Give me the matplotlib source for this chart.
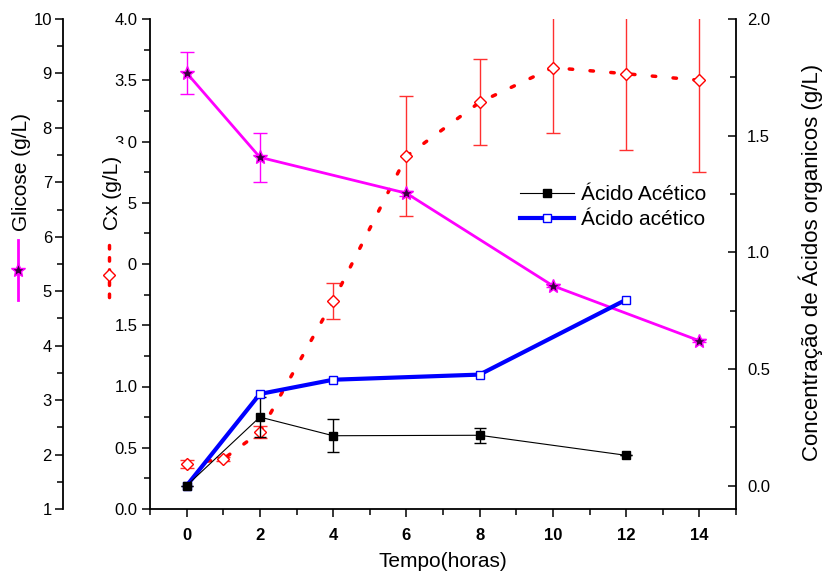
import numpy as np
import matplotlib
matplotlib.use("Agg")
import matplotlib.pyplot as plt
from matplotlib.lines import Line2D
from matplotlib.patches import Rectangle
from matplotlib.ticker import MultipleLocator, FormatStrFormatter

plt.rcParams['font.family'] = ['Liberation Sans', 'DejaVu Sans']

# Glicose (g/L) - far left axis
t_gli = [0, 2, 6, 10, 14]
glicose = [9.01, 7.46, 6.80, 5.10, 4.09]
glicose_err = [0.39, 0.45, 0.05, 0.03, 0.03]

# Cx (g/L) - inner left axis
t_cx = [0, 1, 2, 4, 6, 8, 10, 12, 14]
cx = [0.367, 0.408, 0.626, 1.698, 2.88, 3.32, 3.603, 3.553, 3.50]
cx_err = [0.03, 0.02, 0.05, 0.146, 0.49, 0.35, 0.53, 0.62, 0.75]

# acidos organicos (g/L) - right axis
t_ac = [0, 2, 4, 8, 12]
acetico_1 = [0.0, 0.294, 0.214, 0.216, 0.13]
acetico_1_err = [0.0, 0.085, 0.07, 0.032, 0.0]
acetico_2 = [0.0, 0.393, 0.454, 0.476, 0.797]

W, H = 823, 581
fig = plt.figure(figsize=(W / 100, H / 100), dpi=100)
ax = fig.add_axes([150 / W, 1 - 509 / H, 586 / W, 490 / H])
ax_g = ax.twinx()
ax_r = ax.twinx()

# Cx
ax.errorbar(t_cx, cx, yerr=cx_err, color="red", lw=2.5, ls=(0, (1, 5)),
            dash_capstyle="round", marker="D", ms=6, mfc="white", mec="red", mew=1,
            ecolor="#ff3030", elinewidth=1, capsize=5, capthick=1)
ax.set_xlim(-1, 15)
ax.set_ylim(0, 4.0)
ax.yaxis.set_major_locator(MultipleLocator(0.5))
ax.yaxis.set_minor_locator(MultipleLocator(0.25))
ax.yaxis.set_major_formatter(FormatStrFormatter("%.1f"))
ax.xaxis.set_major_locator(MultipleLocator(2))
ax.xaxis.set_minor_locator(MultipleLocator(1))
ax.set_xlabel("Tempo(horas)", fontsize=15, labelpad=6)
for lab in ax.get_xticklabels():
    lab.set_fontweight("bold")
ax.tick_params(axis="x", which="both", direction="out", labelsize=12, pad=8)
ax.tick_params(axis="y", which="both", direction="out", labelsize=12, pad=3)
ax.tick_params(which="major", length=6, width=1.1)
ax.tick_params(which="minor", length=4, width=1.1)
ax.spines.top.set_visible(False)
ax.spines.right.set_visible(False)
ax.spines.left.set_linewidth(1.3)
ax.spines.bottom.set_linewidth(1.3)

# Glicose
ax_g.errorbar(t_gli, glicose, yerr=glicose_err, color="magenta", lw=2,
              marker="*", ms=10, mfc="#3a0040", mec="magenta", mew=1,
              elinewidth=1, capsize=5, capthick=1)
ax_g.set_ylim(1, 10)
ax_g.yaxis.set_major_locator(MultipleLocator(1))
ax_g.yaxis.set_minor_locator(MultipleLocator(0.5))
for s in ["top", "right", "bottom"]:
    ax_g.spines[s].set_visible(False)
ax_g.spines.left.set_visible(True)
ax_g.spines.left.set_position(("axes", -87 / 586))
ax_g.spines.left.set_linewidth(1.3)
ax_g.yaxis.set_ticks_position("left")
ax_g.yaxis.set_label_position("left")
ax_g.tick_params(which="both", direction="out", labelsize=12, pad=2)
ax_g.tick_params(which="major", length=6, width=1.1)
ax_g.tick_params(which="minor", length=4, width=1.1)

# acidos
ax_r.errorbar(t_ac, acetico_1, yerr=acetico_1_err, color="black", lw=0.8,
              marker="s", ms=6, elinewidth=1, capsize=4, capthick=1, label="Ácido Acético")
ax_r.plot(t_ac, acetico_2, color="blue", lw=3, marker="s", ms=6, mfc="white",
          mec="blue", mew=1, label="Ácido acético")
ax_r.set_ylim(-0.1, 2.0)
ax_r.yaxis.set_major_locator(MultipleLocator(0.5))
ax_r.yaxis.set_minor_locator(MultipleLocator(0.25))
ax_r.yaxis.set_major_formatter(FormatStrFormatter("%.1f"))
for s in ["top", "left", "bottom"]:
    ax_r.spines[s].set_visible(False)
ax_r.spines.right.set_linewidth(1.3)
ax_r.tick_params(which="both", direction="in", labelsize=12, pad=8)
ax_r.tick_params(which="major", length=6, width=1.1)
ax_r.tick_params(which="minor", length=4, width=1.1)

h1 = Line2D([], [], color="black", lw=0.8, marker="s", ms=6)
h2 = Line2D([], [], color="blue", lw=3, marker="s", ms=6, mfc="white", mec="blue", mew=1)
ax_r.legend([h1, h2], ["Ácido Acético", "Ácido acético"], loc="upper left",
            bbox_to_anchor=(520 / W, 1 - 185 / H), bbox_transform=fig.transFigure,
            frameon=False, fontsize=15, numpoints=1, handlelength=2.6,
            handletextpad=0.35, labelspacing=0.3, borderpad=0, borderaxespad=0)

fig.text(811 / W, 1 - 262 / H, "Concentração de Ácidos organicos (g/L)", rotation=90,
         ha="center", va="center", fontsize=16)

# axis titles with their series symbols (Origin style)
fig.add_artist(Rectangle((100 / W, 1 - 290 / H), 27 / W, 146 / H, transform=fig.transFigure,
                         facecolor="white", edgecolor="none", zorder=5))
fig.text(22 / W, 1 - 172 / H, "Glicose (g/L)", rotation=90, ha="center", va="center",
         fontsize=15, zorder=6)
fig.text(113 / W, 1 - 193 / H, "Cx (g/L)", rotation=90, ha="center", va="center",
         fontsize=15, zorder=6)
fig.add_artist(Line2D([18 / W, 18 / W], [1 - 240 / H, 1 - 300 / H], color="magenta", lw=2,
                      transform=fig.transFigure, zorder=6))
fig.add_artist(Line2D([18 / W], [1 - 270 / H], marker="*", ms=10, mfc="#3a0040", mec="magenta",
                      transform=fig.transFigure, zorder=7))
fig.add_artist(Line2D([109 / W, 109 / W], [1 - 245 / H, 1 - 305 / H], color="red", lw=2.5,
                      ls=(0, (1, 2.5)), dash_capstyle="round", transform=fig.transFigure, zorder=6))
fig.add_artist(Line2D([109 / W], [1 - 275 / H], marker="D", ms=6, mfc="white", mec="red",
                      transform=fig.transFigure, zorder=7))

fig.savefig("out.png", dpi=100)
